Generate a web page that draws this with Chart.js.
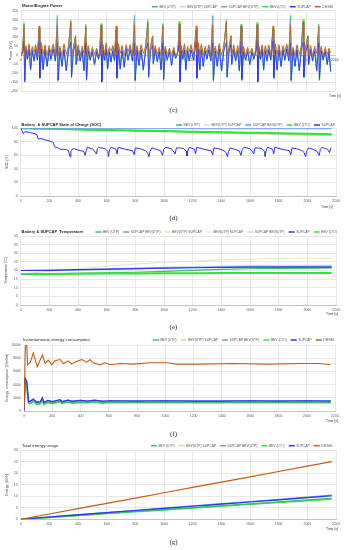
<!DOCTYPE html>
<html>
<head>
<meta charset="utf-8">
<script src="https://cdn.jsdelivr.net/npm/chart.js@4.4.1/dist/chart.umd.min.js"></script>
<style>
  body { margin: 0; background: #fff; width: 347px; height: 550px; overflow: hidden; position: relative; }
  .box { position: absolute; left: 0; width: 347px; }
  .cap { position: absolute; left: 0; width: 347px; text-align: center; font-family: "Liberation Serif", "DejaVu Serif", serif; font-size: 7px; line-height: 10px; color: #222; }
</style>
</head>
<body>
<div class="box" style="top:0;height:100px"><canvas id="powerChart" width="347" height="100"></canvas></div>
<div class="cap" style="top:105px">(c)</div>
<div class="box" style="top:115px;height:100px"><canvas id="socChart" width="347" height="100"></canvas></div>
<div class="cap" style="top:213px">(d)</div>
<div class="box" style="top:222px;height:100px"><canvas id="tempChart" width="347" height="100"></canvas></div>
<div class="cap" style="top:322px">(e)</div>
<div class="box" style="top:330px;height:100px"><canvas id="consChart" width="347" height="100"></canvas></div>
<div class="cap" style="top:429px">(f)</div>
<div class="box" style="top:438px;height:96px"><canvas id="energyChart" width="347" height="96"></canvas></div>
<div class="cap" style="top:537px">(g)</div>

<script>
// ---- Motor/Engine power [kW] ----
const powerTime = [0,
  5, 13, 21, 26, 35, 45, 57, 67, 79, 91, 103, 115, 127, 132, 143, 155, 168, 183, 197, 210, 225, 241, 255, 260, 273, 287, 301, 317, 333, 349, 354, 367, 382, 387, 401, 415, 429, 441, 454, 459, 471, 485, 500, 515, 530, 543,
  548, 553, 561, 566, 575, 585, 597, 607, 619, 631, 643, 655, 667, 672, 683, 695, 708, 723, 737, 750, 765, 781, 795, 800, 813, 827, 841, 857, 873, 889, 894, 907, 922, 927, 941, 955, 969, 981, 994, 999, 1011, 1025, 1040, 1055, 1070, 1083,
  1093, 1101, 1109, 1114, 1123, 1133, 1145, 1155, 1167, 1179, 1191, 1210, 1228, 1233, 1243, 1253, 1264, 1277, 1290, 1303, 1316, 1330, 1343, 1348, 1361, 1375, 1389, 1405, 1421, 1439, 1444, 1457, 1471, 1476, 1490, 1504, 1518, 1530, 1542, 1547, 1559, 1573, 1588, 1603, 1618, 1631,
  1638, 1646, 1654, 1659, 1668, 1678, 1690, 1700, 1712, 1724, 1736, 1750, 1766, 1771, 1782, 1794, 1807, 1822, 1836, 1849, 1862, 1876, 1888, 1893, 1906, 1920, 1934, 1950, 1964, 1977, 1982, 1995, 2010, 2015, 2029, 2043, 2057, 2072, 2086, 2091, 2103, 2117, 2132, 2146, 2158, 2170];

const bevUtpPower = [0,
  0, 28, 175, -140, 42, -22, 52, -80, 38, -32, 48, -26, 145, -125, 55, -78, 48, -62, 42, -22, 52, -31, 205, -140, 38, -62, 52, -84, 42, 190, -120, 33, 105, -52, 48, -31, 38, -84, 165, -136, 42, -26, 33, -52, 33, -22,
  0, 32, 170, -140, 46, -28, 56, -76, 33, -38, 43, -26, 145, -125, 52, -76, 43, -66, 46, -28, 47, -31, 200, -140, 42, -57, 47, -80, 38, 190, -120, 38, 103, -47, 43, -36, 33, -80, 168, -136, 42, -26, 33, -56, 38, -18,
  0, 37, 178, -140, 42, -22, 52, -80, 38, -32, 47, -26, 145, -125, 56, -80, 52, -62, 38, -22, 47, -31, 210, -140, 38, -62, 52, -85, 42, 190, -120, 33, 105, -52, 47, -31, 42, -85, 165, -136, 38, -26, 33, -52, 33, -22,
  0, 28, 175, -140, 38, -22, 47, -80, 42, -32, 47, -26, 145, -125, 52, -80, 47, -62, 42, -28, 52, -31, 205, -140, 33, -62, 47, -85, 38, 190, -120, 38, 105, -52, 42, -31, 38, -85, 165, -136, 38, -26, 33, -52, 33, -88];
const bevUtpSupcapPower = [0,
  0, 22, 150, -135, 38, -18, 42, -74, 32, -28, 38, -20, 135, -115, 42, -72, 38, -55, 38, -18, 42, -24, 195, -130, 32, -55, 42, -78, 32, 170, -110, 28, 95, -45, 38, -24, 32, -78, 150, -125, 32, -20, 28, -45, 28, -16,
  0, 28, 150, -135, 42, -22, 48, -70, 28, -32, 32, -20, 135, -115, 38, -70, 32, -58, 42, -22, 38, -24, 200, -130, 38, -50, 38, -75, 32, 165, -110, 32, 90, -40, 38, -24, 28, -75, 150, -125, 32, -20, 28, -48, 32, -14,
  0, 32, 155, -135, 38, -18, 42, -74, 32, -28, 38, -20, 135, -115, 42, -74, 42, -55, 32, -18, 38, -24, 200, -130, 32, -55, 42, -78, 32, 170, -110, 28, 95, -45, 38, -24, 32, -78, 150, -125, 28, -20, 28, -45, 28, -16,
  0, 22, 150, -135, 32, -18, 42, -74, 38, -28, 38, -20, 135, -115, 38, -74, 38, -55, 38, -22, 42, -24, 195, -130, 28, -55, 38, -78, 32, 170, -110, 32, 95, -45, 38, -24, 32, -78, 150, -125, 32, -20, 28, -45, 28, -80];
const supcapBevUtpPower = [0,
  0, 25, 160, -140, 40, -20, 45, -78, 35, -30, 40, -22, 140, -120, 45, -75, 40, -58, 40, -20, 45, -27, 215, -135, 35, -58, 45, -82, 35, 180, -115, 30, 100, -48, 40, -27, 35, -82, 155, -130, 35, -22, 30, -48, 30, -18,
  0, 30, 160, -140, 45, -25, 50, -72, 30, -35, 35, -27, 140, -120, 40, -72, 35, -62, 45, -25, 40, -27, 225, -135, 40, -52, 40, -78, 35, 175, -115, 35, 95, -42, 40, -32, 30, -78, 160, -130, 35, -22, 30, -52, 35, -15,
  0, 35, 165, -140, 40, -20, 45, -78, 35, -30, 40, -22, 140, -120, 45, -78, 45, -58, 35, -20, 40, -27, 220, -135, 35, -58, 45, -82, 35, 180, -115, 30, 100, -48, 40, -27, 35, -82, 160, -130, 30, -22, 30, -48, 30, -18,
  0, 25, 160, -140, 35, -20, 45, -78, 40, -30, 40, -22, 140, -120, 40, -78, 40, -58, 40, -25, 45, -27, 210, -135, 30, -58, 40, -82, 35, 180, -115, 35, 100, -48, 40, -27, 35, -82, 155, -130, 35, -22, 30, -48, 30, -85];
const bevLtoPower = [0,
  0, 30, 188, -145, 45, -25, 55, -85, 40, -35, 50, -30, 150, -132, 60, -82, 50, -65, 45, -25, 55, -35, 225, -147, 40, -65, 55, -88, 45, 200, -127, 35, 110, -55, 50, -35, 40, -88, 175, -142, 45, -30, 35, -55, 35, -25,
  0, 35, 178, -145, 50, -30, 60, -80, 35, -40, 45, -35, 150, -132, 55, -80, 45, -70, 50, -30, 50, -35, 205, -147, 45, -60, 50, -85, 40, 200, -127, 40, 108, -50, 45, -40, 35, -85, 178, -142, 45, -30, 35, -60, 40, -20,
  0, 40, 190, -145, 45, -25, 55, -85, 40, -35, 50, -30, 150, -132, 60, -85, 55, -65, 40, -25, 50, -35, 225, -147, 40, -65, 55, -90, 45, 200, -127, 35, 110, -55, 50, -35, 45, -90, 175, -142, 40, -30, 35, -55, 35, -25,
  0, 30, 185, -145, 40, -25, 50, -85, 45, -35, 50, -30, 150, -132, 55, -85, 50, -65, 45, -30, 55, -35, 225, -147, 35, -65, 50, -90, 40, 200, -127, 40, 110, -55, 45, -35, 40, -90, 175, -142, 40, -30, 35, -55, 35, -95];
const supcapPower = [0,
  0, 20, 80, -150, 30, -20, 35, -80, 25, -30, 30, -25, 80, -125, 35, -80, 30, -60, 30, -20, 35, -30, 70, -140, 25, -60, 30, -85, 25, 75, -120, 20, 60, -50, 30, -30, 25, -85, 70, -135, 25, -25, 20, -50, 20, -20,
  0, 25, 75, -150, 30, -25, 35, -75, 20, -35, 25, -30, 75, -125, 30, -75, 25, -65, 35, -25, 30, -30, 70, -140, 30, -55, 30, -80, 25, 70, -120, 25, 55, -45, 30, -35, 20, -80, 70, -135, 25, -25, 20, -55, 25, -15,
  0, 20, 80, -150, 25, -20, 30, -80, 25, -30, 30, -25, 80, -125, 35, -80, 30, -60, 25, -20, 30, -30, 70, -140, 25, -60, 35, -85, 25, 75, -120, 20, 60, -50, 30, -30, 25, -85, 75, -135, 20, -25, 20, -50, 20, -20,
  0, 25, 80, -150, 30, -20, 35, -80, 25, -30, 30, -25, 80, -125, 30, -80, 30, -60, 30, -25, 35, -30, 70, -140, 25, -60, 30, -85, 25, 75, -120, 20, 60, -50, 30, -30, 25, -85, 70, -135, 25, -25, 20, -50, 20, -90];
const dieselPower = [0,
  5, 40, 165, 0, 55, 10, 65, 0, 50, 20, 60, 0, 165, 0, 70, 5, 60, 0, 55, 15, 65, 0, 170, 0, 50, 0, 65, 5, 55, 185, 0, 45, 110, 0, 60, 0, 50, 10, 160, 0, 55, 0, 45, 5, 40, 0,
  8, 45, 170, 0, 60, 5, 70, 0, 45, 25, 55, 0, 165, 0, 65, 10, 55, 0, 60, 20, 60, 0, 170, 0, 55, 0, 60, 10, 50, 180, 0, 50, 110, 0, 55, 5, 45, 0, 165, 0, 50, 5, 40, 0, 45, 0,
  5, 50, 175, 0, 55, 15, 65, 0, 50, 20, 60, 5, 165, 0, 70, 5, 65, 0, 50, 15, 60, 0, 170, 0, 50, 5, 65, 0, 55, 185, 0, 45, 110, 0, 60, 0, 55, 10, 165, 0, 50, 0, 45, 10, 40, 0,
  10, 40, 170, 0, 50, 10, 60, 0, 55, 15, 60, 0, 165, 0, 65, 5, 60, 0, 55, 20, 65, 0, 170, 0, 45, 0, 60, 5, 50, 185, 0, 50, 110, 0, 55, 0, 50, 10, 160, 0, 50, 0, 45, 5, 40, 15];

// ---- State of charge [%] ----
const socTime = [0, 200, 400, 600, 800, 1000, 1200, 1400, 1600, 1800, 2000, 2170];
const bevUtpSoc = [100, 99.2, 98.3, 97.5, 96.6, 95.7, 94.8, 94.0, 93.2, 92.4, 91.6, 91.0];
const bevUtpSupcapSoc = [100, 99.1, 98.1, 97.0, 96.0, 95.0, 94.0, 93.0, 92.0, 91.0, 90.0, 89.2];
const supcapBevUtpSoc = [100, 99.9, 99.8, 99.8, 99.7, 99.7, 99.6, 99.6, 99.5, 99.5, 99.4, 99.4];
const bevLtoSoc = [100, 99.3, 98.4, 97.6, 96.7, 95.9, 95.0, 94.2, 93.4, 92.6, 91.8, 91.2];
const supcapSocTime = [0, 8, 18, 28, 60, 100, 115, 122, 140, 170, 205, 228, 236, 245, 256, 275, 310, 333, 344, 350, 358, 370, 414, 440, 449, 456, 465, 505, 522, 528, 535, 545,
  560, 590, 608, 612, 620, 630, 665, 672, 680, 730, 780, 792, 800, 830, 870, 885, 895, 902, 915, 945, 975, 990, 998, 1010, 1050, 1070, 1078, 1086,
  1108, 1138, 1156, 1160, 1168, 1178, 1213, 1220, 1228, 1278, 1328, 1340, 1348, 1378, 1418, 1433, 1443, 1450, 1463, 1493, 1523, 1538, 1546, 1558, 1598, 1618, 1626, 1634,
  1653, 1683, 1701, 1705, 1713, 1723, 1758, 1765, 1773, 1823, 1873, 1885, 1893, 1923, 1963, 1978, 1988, 1995, 2008, 2038, 2068, 2083, 2091, 2103, 2140, 2155, 2162, 2170];
const supcapSoc = [100, 97, 92, 95, 94, 92, 90, 84, 85, 83, 81, 79, 73, 71, 72, 69, 69, 67, 58, 66, 69, 70, 67, 66, 60, 66, 72, 69, 64, 62, 70, 72,
  71, 70, 66, 58, 68, 72, 69, 62, 72, 69, 67, 61, 71, 70, 67, 64, 58, 66, 71, 69, 67, 60, 69, 72, 70, 65, 62, 71,
  71, 70, 66, 59, 68, 72, 69, 62, 72, 69, 67, 61, 71, 70, 67, 64, 58, 66, 71, 69, 67, 60, 69, 72, 70, 65, 62, 71,
  71, 70, 66, 58, 68, 72, 69, 62, 72, 69, 67, 61, 71, 70, 67, 64, 58, 66, 71, 69, 66, 60, 69, 72, 69, 64, 70, 71];

// ---- Temperature [°C] ----
const tempTime = [0, 200, 400, 600, 800, 1000, 1200, 1400, 1600, 1800, 2000, 2170];
const bevUtpTemp = [18.0, 18.1, 18.3, 18.6, 19.0, 19.5, 20.1, 20.6, 21.0, 21.2, 21.4, 21.5];
const supcapBevUtpTemp = [20.0, 20.1, 20.3, 20.6, 21.0, 21.4, 21.7, 22.0, 22.2, 22.3, 22.4, 22.5];
const bevUtpSupcapTemp = [18.0, 19.5, 21.0, 22.5, 23.7, 24.7, 25.5, 26.1, 26.6, 27.0, 27.2, 27.0];
const bevUtpSupcapTemp2 = [18.0, 18.3, 18.8, 19.3, 19.8, 20.2, 20.6, 20.9, 21.1, 21.3, 21.4, 21.5];
const supcapBevUtpTemp2 = [20.0, 20.2, 20.5, 21.0, 21.5, 22.0, 22.3, 22.6, 22.8, 23.0, 23.0, 23.0];
const supcapTemp = [20.0, 20.1, 20.5, 20.8, 21.1, 21.4, 21.6, 21.8, 21.9, 22.0, 22.0, 22.0];
const bevLtoTemp = [18.0, 18.0, 18.1, 18.2, 18.3, 18.4, 18.4, 18.5, 18.5, 18.6, 18.6, 18.6];

// ---- Instantaneous energy consumption [Wh/km] ----
const consTime = [0, 6, 8, 20, 32, 42, 66, 90, 115, 130, 140, 170, 200, 255, 270, 310, 340, 400, 450, 500, 560, 600, 800, 1000, 1200, 1400, 1600, 1800, 2000, 2170];
const bevUtpCons = [0, 0, 4400, 3800, 1250, 1150, 1550, 1050, 1150, 1750, 1050, 1350, 1150, 1450, 1200, 1400, 1250, 1350, 1300, 1400, 1250, 1350, 1300, 1350, 1300, 1300, 1350, 1300, 1350, 1300];
const bevUtpSupcapCons = [0, 0, 4600, 4000, 1350, 1300, 1650, 1200, 1300, 1850, 1200, 1500, 1300, 1600, 1300, 1550, 1400, 1500, 1400, 1550, 1400, 1450, 1420, 1450, 1420, 1420, 1450, 1420, 1450, 1420];
const supcapBevUtpCons = [0, 0, 4800, 4300, 1450, 1500, 1750, 1350, 1450, 1900, 1350, 1600, 1450, 1700, 1450, 1650, 1500, 1600, 1500, 1600, 1500, 1550, 1520, 1550, 1520, 1520, 1550, 1520, 1550, 1520];
const bevLtoCons = [0, 0, 4200, 3500, 1200, 1100, 1500, 1000, 1100, 1700, 1000, 1300, 1100, 1400, 1150, 1350, 1200, 1300, 1250, 1350, 1200, 1300, 1250, 1300, 1250, 1250, 1300, 1250, 1300, 1250];
const supcapCons = [0, 0, 5000, 4500, 1400, 1450, 1800, 1300, 1400, 2000, 1300, 1600, 1400, 1700, 1400, 1650, 1450, 1600, 1500, 1650, 1450, 1550, 1500, 1550, 1500, 1500, 1550, 1500, 1550, 1500];
const dieselConsTime = [0, 5, 10, 20, 25, 45, 66, 94, 130, 149, 172, 196, 219, 255, 278, 314, 337, 370, 408, 444, 467, 490, 538, 573, 609, 679, 774, 892, 1010, 1081, 1246, 1482, 1718, 1953, 2095, 2170];
const dieselCons = [0, 0, 10000, 10000, 7000, 7400, 8800, 6700, 8500, 7200, 7700, 7000, 7600, 7800, 7200, 7600, 7100, 7500, 7800, 7400, 7800, 7300, 7000, 7300, 7000, 7200, 7100, 7300, 7300, 7100, 7100, 7200, 7100, 7200, 7200, 7000];

// ---- Total energy usage [kWh] ----
const energyTime = [0, 200, 400, 600, 800, 1000, 1200, 1400, 1600, 1800, 2000, 2170];
const bevUtpEnergy = [0, 0.85, 1.7, 2.55, 3.4, 4.2, 5.05, 5.9, 6.7, 7.55, 8.4, 9.1];
const bevUtpSupcapEnergy = [0, 1.0, 1.9, 2.85, 3.75, 4.65, 5.6, 6.5, 7.4, 8.35, 9.25, 10.0];
const supcapBevUtpEnergy = [0, 1.05, 2.0, 2.95, 3.9, 4.85, 5.8, 6.75, 7.7, 8.65, 9.6, 10.45];
const bevLtoEnergy = [0, 0.8, 1.65, 2.45, 3.25, 4.05, 4.85, 5.65, 6.45, 7.25, 8.05, 8.75];
const supcapEnergy = [0, 1.0, 1.95, 2.85, 3.8, 4.7, 5.65, 6.6, 7.5, 8.45, 9.4, 10.2];
const dieselEnergy = [0, 2.3, 4.6, 6.9, 9.2, 11.5, 13.8, 16.1, 18.4, 20.7, 23.0, 25.0];

const FONT = '"Liberation Sans", Arial, sans-serif';
const C_BEV_UTP = '#3fba6f';
const C_BEV_UTP_SC = '#d3dfa2';
const C_SC_BEV_UTP = '#5f9ef0';
const C_BEV_LTO = '#2ee82e';
const C_SUPCAP = '#2f2ff5';
const C_DIESEL = '#c45c16';
const GRID = '#e8e8e8';
const TICK = '#595959';

// draws the title, the one-line legend and the "Time [s]" label
const decor = {
    id: 'decor',
    afterDraw(chart, args, o) {
        const ctx = chart.ctx;
        ctx.save();
        ctx.textBaseline = 'middle';
        ctx.textAlign = 'left';
        ctx.font = (o.bold ? 'bold ' : '') + o.titleSize + 'px ' + FONT;
        ctx.fillStyle = '#262626';
        ctx.fillText(o.title, o.titleX, o.titleY);

        ctx.font = '3.3px ' + FONT;
        const sets = chart.data.datasets;
        let x = o.legendRight;
        for (let i = sets.length - 1; i >= 0; i--) {
            const w = ctx.measureText(sets[i].label).width;
            x -= w;
            ctx.fillStyle = TICK;
            ctx.fillText(sets[i].label, x, o.legendY);
            x -= 1.5;
            ctx.strokeStyle = sets[i].borderColor;
            ctx.lineWidth = 1.5;
            ctx.beginPath();
            ctx.moveTo(x - 6, o.legendY);
            ctx.lineTo(x, o.legendY);
            ctx.stroke();
            x -= 10;
        }

        ctx.font = '3.4px ' + FONT;
        ctx.fillStyle = '#404040';
        ctx.textAlign = 'right';
        ctx.fillText('Time [s]', o.timeRight, o.timeY);
        ctx.restore();
    }
};

function series(label, xs, ys, color, width, order) {
    return {
        label: label,
        data: xs.map((x, i) => ({ x: x, y: ys[i] })),
        borderColor: color,
        backgroundColor: color,
        borderWidth: width,
        pointRadius: 0,
        tension: 0,
        order: order || 0
    };
}

function xAxis(extra) {
    return Object.assign({
        type: 'linear', min: 0, max: 2200,
        ticks: { stepSize: 200, autoSkip: false, maxRotation: 0, padding: 3, color: TICK, font: { size: 3.5, family: FONT }, callback: v => String(v) },
        grid: { color: GRID, drawTicks: false },
        border: { color: '#c4c4c4' },
        afterFit: s => { s.height = 12; }
    }, extra || {});
}

function yAxis(min, max, step, title, width, titlePad) {
    return {
        min: min, max: max,
        ticks: { stepSize: step, padding: 3, color: TICK, font: { size: 3.5, family: FONT }, callback: v => String(v) },
        grid: { color: GRID, drawTicks: false },
        border: { display: false },
        title: { display: true, text: title, color: '#404040', font: { size: 3.5, family: FONT }, padding: { top: titlePad, bottom: 0 } },
        afterFit: s => { s.width = width; }
    };
}

function makeChart(id, datasets, scales, padding, decorOpts) {
    new Chart(document.getElementById(id).getContext('2d'), {
        type: 'line',
        data: { datasets: datasets },
        options: {
            responsive: false,
            animation: false,
            layout: { padding: padding },
            plugins: { legend: { display: false }, tooltip: { enabled: false }, decor: decorOpts },
            scales: scales
        },
        plugins: [decor]
    });
}

// Motor/Engine Power
makeChart('powerChart', [
    series('BEV (UTP)', powerTime, bevUtpPower, C_BEV_UTP, 0.8, 5),
    series('BEV(UTP) SUPCAP', powerTime, bevUtpSupcapPower, C_BEV_UTP_SC, 0.8, 4),
    series('SUPCAP BEV(UTP)', powerTime, supcapBevUtpPower, C_SC_BEV_UTP, 0.8, 3),
    series('BEV (LTO)', powerTime, bevLtoPower, C_BEV_LTO, 0.8, 6),
    series('SUPCAP', powerTime, supcapPower, C_SUPCAP, 0.8, 1),
    series('DIESEL', powerTime, dieselPower, C_DIESEL, 0.8, 0)
], {
    x: xAxis({ position: { y: 0 } }),
    y: yAxis(-200, 250, 50, 'Power  [kW]', 21, 8.6)
}, { top: 10.7, bottom: 9, left: 0, right: 12 },
{ title: 'Motor/Engine Power', bold: true, titleSize: 4.2, titleX: 22, titleY: 6.3, legendRight: 334, legendY: 6.7, timeRight: 341, timeY: 95.7 });

// Battery & SUPCAP State of Charge
makeChart('socChart', [
    series('BEV (UTP)', socTime, bevUtpSoc, C_BEV_UTP, 1.2, 2),
    series('BEV(UTP) SUPCAP', socTime, bevUtpSupcapSoc, C_BEV_UTP_SC, 1.2, 3),
    series('SUPCAP BEV(UTP)', socTime, supcapBevUtpSoc, C_SC_BEV_UTP, 1.2, 1),
    series('BEV (LTO)', socTime, bevLtoSoc, C_BEV_LTO, 2, 1),
    series('SUPCAP', supcapSocTime, supcapSoc, C_SUPCAP, 1, 0)
], {
    x: xAxis(),
    y: yAxis(0, 100, 10, 'SOC [%]', 20.7, 5.1)
}, { top: 13.3, bottom: 7, left: 0, right: 11 },
{ title: 'Battery  & SUPCAP State of Charge (SOC)', bold: true, titleSize: 4, titleX: 21.5, titleY: 10, legendRight: 335, legendY: 10, timeRight: 333, timeY: 91.7 });

// Battery & SUPCAP Temperature
makeChart('tempChart', [
    series('BEV (UTP)', tempTime, bevUtpTemp, C_BEV_UTP, 1.2, 2),
    series('SUPCAP BEV(UTP)', tempTime, supcapBevUtpTemp, C_SC_BEV_UTP, 1, 2),
    series('BEV(UTP) SUPCAP', tempTime, bevUtpSupcapTemp, '#dfe8bd', 1, 3),
    series('BEV(UTP) SUPCAP', tempTime, bevUtpSupcapTemp2, '#eef0d6', 1, 3),
    series('SUPCAP BEV(UTP)', tempTime, supcapBevUtpTemp2, '#bcd9f7', 1, 3),
    series('SUPCAP', tempTime, supcapTemp, C_SUPCAP, 1.2, 0),
    series('BEV (LTO)', tempTime, bevLtoTemp, C_BEV_LTO, 2, 1)
], {
    x: xAxis(),
    y: yAxis(0, 40, 5, 'Temperature [\u00B0C]', 20.7, 4.3)
}, { top: 14, bottom: 5, left: 0, right: 11 },
{ title: 'Battery & SUPCAP  Temperature', bold: true, titleSize: 4, titleX: 21.5, titleY: 9.7, legendRight: 337, legendY: 10, timeRight: 338, timeY: 92.3 });

// Instantaneous energy consumption
makeChart('consChart', [
    series('BEV (UTP)', consTime, bevUtpCons, C_BEV_UTP, 1.2, 3),
    series('BEV(UTP) SUPCAP', consTime, bevUtpSupcapCons, C_BEV_UTP_SC, 1.2, 4),
    series('SUPCAP BEV(UTP)', consTime, supcapBevUtpCons, C_SC_BEV_UTP, 1.2, 2),
    series('BEV (LTO)', consTime, bevLtoCons, C_BEV_LTO, 1.6, 5),
    series('SUPCAP', consTime, supcapCons, C_SUPCAP, 1.2, 1),
    series('DIESEL', dieselConsTime, dieselCons, C_DIESEL, 1.1, 0)
], {
    x: xAxis(),
    y: yAxis(0, 10000, 1000, 'Energy  consumption  [Wh/km]', 24, 4.9)
}, { top: 15, bottom: 7, left: 0, right: 12 },
{ title: 'Instantaneous energy consumption', bold: false, titleSize: 4.3, titleX: 23, titleY: 10, legendRight: 335, legendY: 10, timeRight: 338, timeY: 91 });

// Total energy usage
makeChart('energyChart', [
    series('BEV (UTP)', energyTime, bevUtpEnergy, C_BEV_UTP, 1.2, 3),
    series('BEV(UTP) SUPCAP', energyTime, bevUtpSupcapEnergy, C_BEV_UTP_SC, 1.2, 4),
    series('SUPCAP BEV(UTP)', energyTime, supcapBevUtpEnergy, C_SC_BEV_UTP, 1.2, 2),
    series('BEV (LTO)', energyTime, bevLtoEnergy, C_BEV_LTO, 1.4, 5),
    series('SUPCAP', energyTime, supcapEnergy, C_SUPCAP, 1.2, 1),
    series('DIESEL', energyTime, dieselEnergy, C_DIESEL, 1.2, 0)
], {
    x: xAxis(),
    y: yAxis(0, 30, 5, 'Energy  [kWh]', 20.7, 4.9)
}, { top: 12, bottom: 2.7, left: 0, right: 11 },
{ title: 'Total energy usage', bold: false, titleSize: 4.3, titleX: 22, titleY: 7.7, legendRight: 333, legendY: 7.7, timeRight: 338, timeY: 91 });
</script>
</body>
</html>
